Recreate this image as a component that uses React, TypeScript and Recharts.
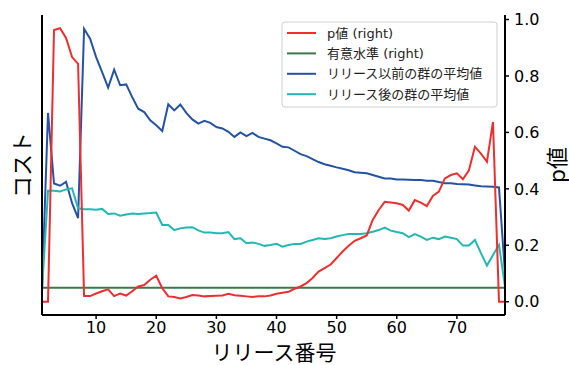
import { ComposedChart, Line, XAxis, YAxis, Customized } from 'recharts'

// p値 per release (right axis)
const pValue = [
  0, 0, 0.963, 0.969, 0.935, 0.867, 0.843, 0.02, 0.02, 0.029,
  0.037, 0.044, 0.02, 0.029, 0.022, 0.037, 0.054, 0.059, 0.078, 0.092,
  0.048, 0.019, 0.017, 0.012, 0.017, 0.024, 0.022, 0.019, 0.02, 0.021,
  0.022, 0.028, 0.023, 0.021, 0.019, 0.017, 0.019, 0.019, 0.022, 0.028,
  0.032, 0.035, 0.046, 0.054, 0.066, 0.084, 0.107, 0.119, 0.132, 0.155,
  0.178, 0.198, 0.216, 0.225, 0.235, 0.29, 0.325, 0.354, 0.352, 0.349,
  0.343, 0.323, 0.36, 0.351, 0.339, 0.375, 0.39, 0.437, 0.449, 0.455,
  0.434, 0.466, 0.549, 0.525, 0.496, 0.637, 0, 0,
]

const significance = 0.05

// コスト: mean of the group before the release (left axis)
const costBefore = [
  40, 669, 419, 411, 425, 349, 296, 967, 932, 867,
  814, 759, 822, 767, 770, 725, 684, 672, 643, 625,
  605, 700, 678, 699, 669, 646, 631, 641, 634, 619,
  614, 602, 584, 600, 587, 598, 584, 578, 572, 561,
  549, 547, 535, 523, 516, 505, 495, 487, 482, 476,
  471, 466, 459, 457, 455, 449, 443, 437, 437, 433,
  433, 432, 431, 431, 429, 429, 424, 420, 420, 417,
  416, 415, 412, 409, 408, 407, 405, 100,
]

// コスト: mean of the group after the release (left axis)
const costAfter = [
  40, 393, 393, 391, 398, 402, 331, 328, 328, 326,
  329, 311, 313, 305, 309, 313, 311, 313, 314, 316,
  272, 272, 254, 260, 263, 264, 253, 245, 245, 243,
  243, 247, 222, 225, 207, 210, 205, 198, 201, 205,
  195, 201, 205, 205, 213, 219, 225, 222, 225, 231,
  236, 240, 240, 240, 243, 248, 254, 263, 252, 247,
  243, 229, 240, 231, 219, 227, 222, 231, 227, 222,
  199, 199, 219, 172, 128, 166, 201, 54,
]

const xTicks = [10, 20, 30, 40, 50, 60, 70]
const pTicks = [0, 0.2, 0.4, 0.6, 0.8, 1.0]

const data = pValue.map((p, i) => ({
  release: i + 1,
  p,
  alpha: significance,
  before: costBefore[i],
  after: costAfter[i],
}))

const RED = '#ee2f2f'
const GREEN = '#3a7a48'
const BLUE = '#2453a6'
const CYAN = '#22b8b4'
const FONT = '"DejaVu Sans", "Noto Sans CJK JP", sans-serif'

const legendItems = [
  { name: 'p値 (right)', color: RED },
  { name: '有意水準 (right)', color: GREEN },
  { name: 'リリース以前の群の平均値', color: BLUE },
  { name: 'リリース後の群の平均値', color: CYAN },
]

function LegendBox() {
  return (
    <g fontFamily={FONT}>
      <rect x={282} y={22} width={215} height={85} rx={3} fill="#fff" fillOpacity={0.8} stroke="#d0d0d0" />
      {legendItems.map((item, i) => (
        <g key={item.name}>
          <line x1={287} x2={316} y1={33 + i * 20.4} y2={33 + i * 20.4} stroke={item.color} strokeWidth={2} />
          <text x={327} y={33 + i * 20.4} dominantBaseline="central" fontSize={13} fill="#222">
            {item.name}
          </text>
        </g>
      ))}
    </g>
  )
}

function AxisTitles() {
  return (
    <g fontFamily={FONT} fill="#000">
      <text x={274} y={353} textAnchor="middle" dominantBaseline="central" fontSize={21}>
        リリース番号
      </text>
      <text x={22} y={165} textAnchor="middle" dominantBaseline="central" fontSize={22} transform="rotate(-90 22 165)">
        コスト
      </text>
      <text x={557} y={165} textAnchor="middle" dominantBaseline="central" fontSize={22} transform="rotate(-90 557 165)">
        p値
      </text>
    </g>
  )
}

export default function App() {
  return (
    <div style={{ position: 'absolute', left: 0, top: 0 }}>
      <ComposedChart width={569} height={365} data={data} margin={{ top: 15, right: 0, bottom: 0, left: 0 }}>
        <XAxis
          dataKey="release"
          type="number"
          domain={[1, 78]}
          ticks={xTicks}
          allowDataOverflow
          height={50}
          tickSize={4}
          tickMargin={3}
          axisLine={{ stroke: '#000', strokeWidth: 2 }}
          tickLine={{ stroke: '#000', strokeWidth: 1.5 }}
          tick={{ fill: '#000', fontSize: 16, fontFamily: FONT }}
        />
        <XAxis
          xAxisId="top"
          dataKey="release"
          type="number"
          orientation="top"
          domain={[1, 78]}
          height={0}
          tick={false}
          tickLine={false}
          axisLine={{ stroke: '#000', strokeWidth: 2 }}
        />
        <YAxis
          yAxisId="cost"
          domain={[-47, 1016]}
          allowDataOverflow
          width={42}
          tick={false}
          tickLine={false}
          axisLine={{ stroke: '#000', strokeWidth: 2 }}
        />
        <YAxis
          yAxisId="p"
          orientation="right"
          domain={[-0.047, 1.016]}
          allowDataOverflow
          ticks={pTicks}
          tickFormatter={(v: number) => v.toFixed(1)}
          width={64}
          tickSize={4}
          tickMargin={5}
          axisLine={{ stroke: '#000', strokeWidth: 2 }}
          tickLine={{ stroke: '#000', strokeWidth: 1.5 }}
          tick={{ fill: '#000', fontSize: 16, fontFamily: FONT }}
        />
        <Line yAxisId="cost" dataKey="before" name="リリース以前の群の平均値" type="linear" stroke={BLUE} strokeWidth={2} dot={false} isAnimationActive={false} />
        <Line yAxisId="cost" dataKey="after" name="リリース後の群の平均値" type="linear" stroke={CYAN} strokeWidth={2} dot={false} isAnimationActive={false} />
        <Line yAxisId="p" dataKey="alpha" name="有意水準 (right)" type="linear" stroke={GREEN} strokeWidth={2} dot={false} isAnimationActive={false} />
        <Line yAxisId="p" dataKey="p" name="p値 (right)" type="linear" stroke={RED} strokeWidth={2} dot={false} isAnimationActive={false} />
        <Customized component={AxisTitles} />
        <Customized component={LegendBox} />
      </ComposedChart>
    </div>
  )
}
